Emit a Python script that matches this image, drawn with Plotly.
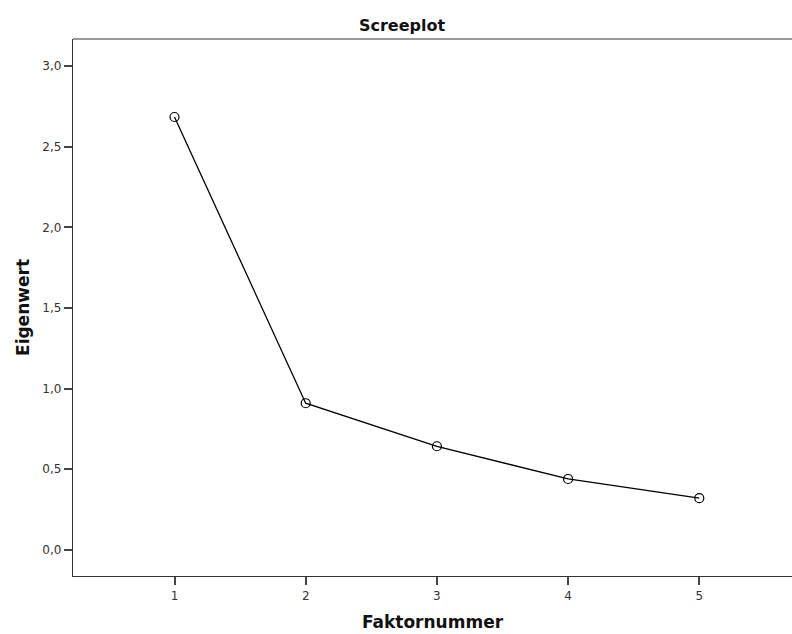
import plotly.graph_objects as go

factors = [1, 2, 3, 4, 5]
eigenvalues = [2.685, 0.909, 0.642, 0.439, 0.320]
y_ticks = [0.0, 0.5, 1.0, 1.5, 2.0, 2.5, 3.0]
y_tick_labels = ["0,0", "0,5", "1,0", "1,5", "2,0", "2,5", "3,0"]
x_ticks = [1, 2, 3, 4, 5]
x_tick_labels = ["1", "2", "3", "4", "5"]

FONT = "DejaVu Sans"

fig = go.Figure()
fig.add_trace(go.Scatter(
    x=factors, y=eigenvalues, mode="lines+markers",
    line=dict(color="black", width=1.3),
    marker=dict(symbol="circle-open", size=9, color="black", line=dict(width=1.2)),
    showlegend=False, hoverinfo="skip",
))

fig.update_layout(
    width=792, height=634,
    margin=dict(l=73, r=0, t=39, b=58),
    paper_bgcolor="white", plot_bgcolor="white",
    font=dict(family=FONT, color="#333333", size=12),
    title=dict(text="<b>Screeplot</b>", x=402/792, xanchor="center",
               y=1 - 25/634, yanchor="middle",
               font=dict(family=FONT, size=16, color="#111111")),
    xaxis=dict(
        range=[0.2264, 5.7066], tickvals=x_ticks, ticktext=x_tick_labels,
        showgrid=False, zeroline=False, showline=True, linecolor="#333333", linewidth=1.3,
        ticks="outside", ticklen=8, tickwidth=1.5, tickcolor="#444444",
        tickfont=dict(family=FONT, size=12, color="#333333"),
        title=dict(text="<b>Faktornummer</b>", standoff=14,
                   font=dict(family=FONT, size=17, color="#111111")),
    ),
    yaxis=dict(
        range=[-0.163, 3.169], tickvals=y_ticks, ticktext=y_tick_labels,
        showgrid=False, zeroline=False, showline=True, linecolor="#333333", linewidth=1.3,
        ticks="outside", ticklen=8, tickwidth=1.5, tickcolor="#444444",
        tickfont=dict(family=FONT, size=12, color="#333333"),
        title=dict(text="<b>Eigenwert</b>", standoff=8,
                   font=dict(family=FONT, size=17, color="#111111")),
    ),
    shapes=[dict(type="line", xref="paper", yref="paper", x0=0, x1=1, y0=1, y1=1,
                 line=dict(color="#999999", width=2))],
)

fig.write_html("out.html")
